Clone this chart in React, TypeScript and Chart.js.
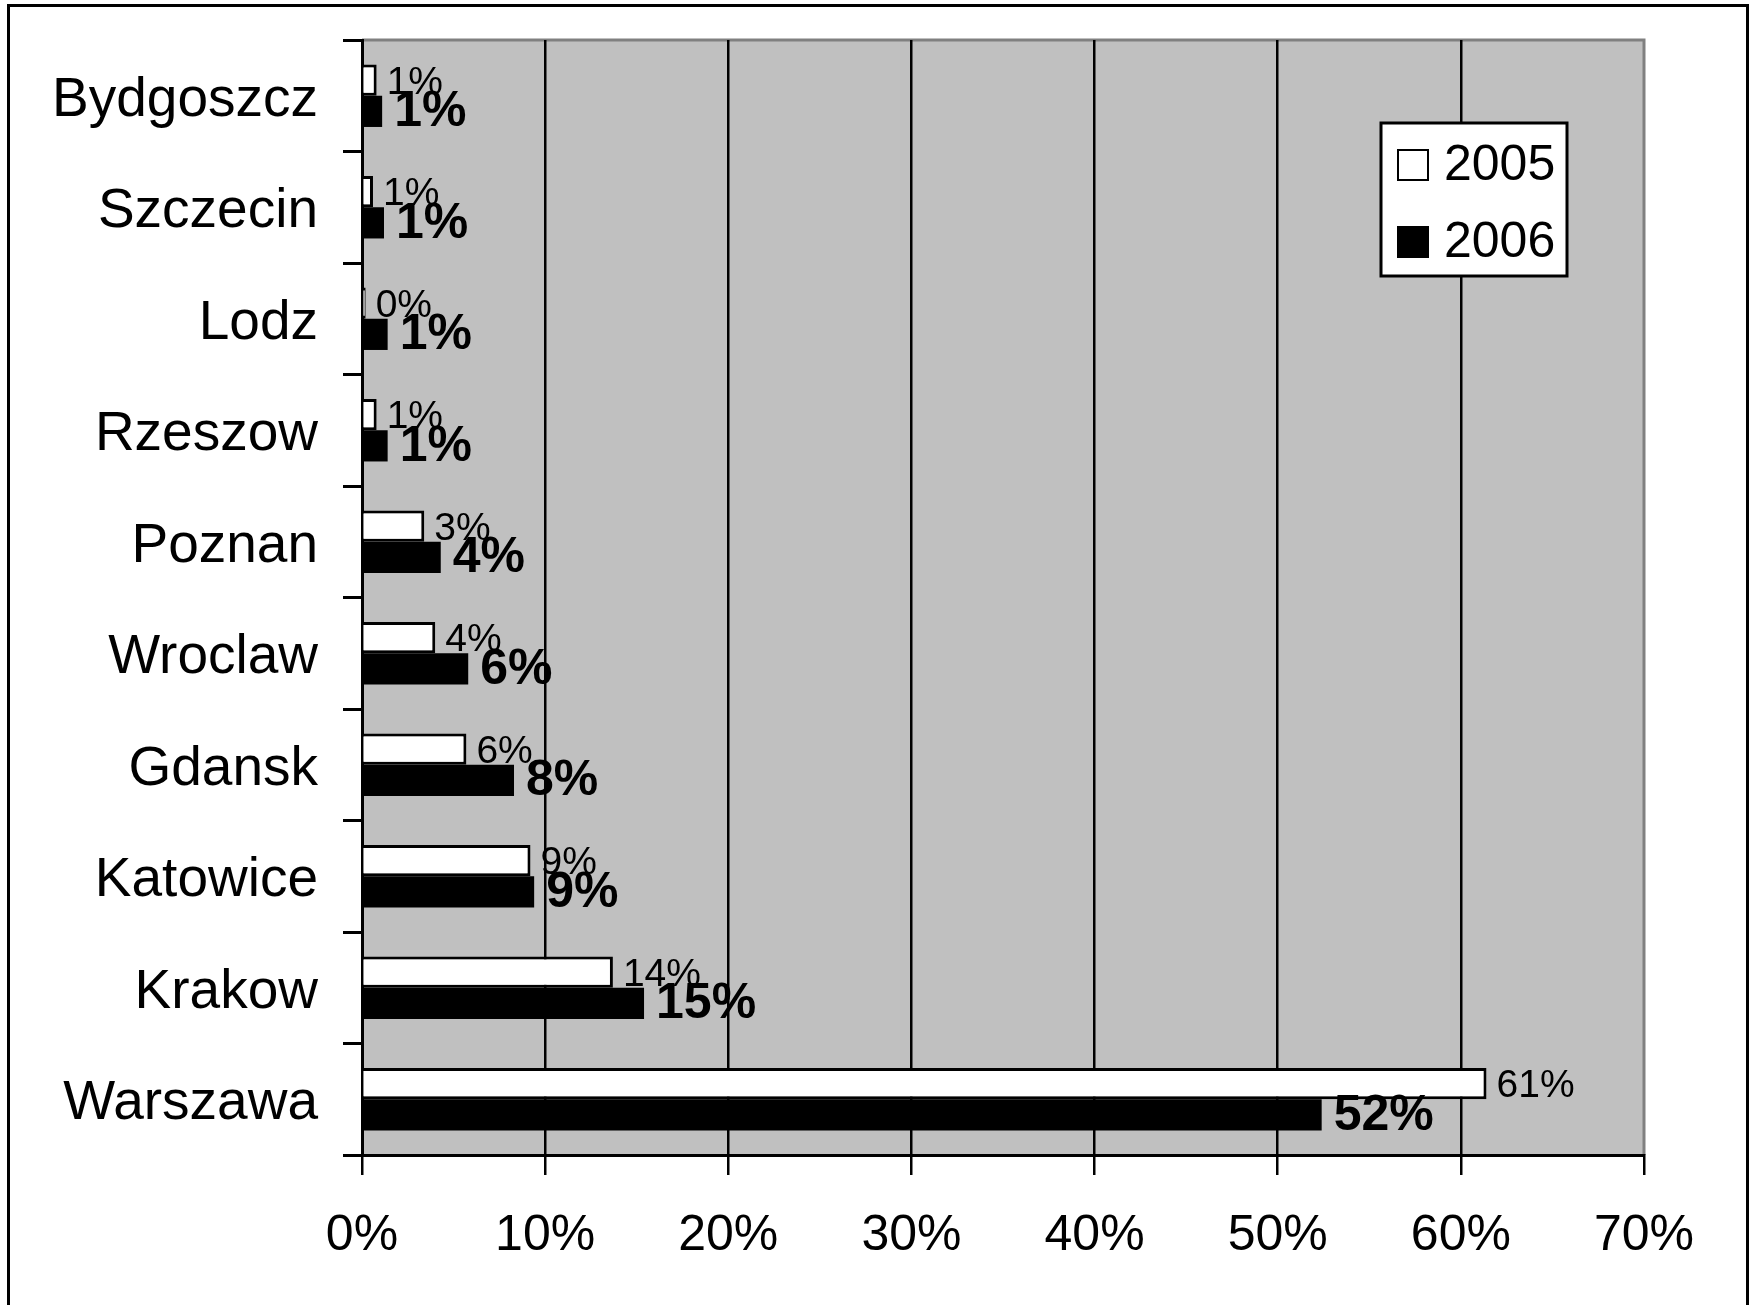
import React, { useEffect, useRef } from "react";
import { Chart, registerables } from "chart.js";

Chart.register(...registerables);

const cities = [
  "Bydgoszcz",
  "Szczecin",
  "Lodz",
  "Rzeszow",
  "Poznan",
  "Wroclaw",
  "Gdansk",
  "Katowice",
  "Krakow",
  "Warszawa",
];
const values2005 = [0.8, 0.6, 0.2, 0.8, 3.4, 4.0, 5.7, 9.2, 13.7, 61.4];
const values2006 = [1.1, 1.2, 1.4, 1.4, 4.3, 5.8, 8.3, 9.4, 15.4, 52.4];
const seriesLabels = ["2005", "2006"];
const xTicks = [0, 10, 20, 30, 40, 50, 60, 70];

const FONT = "'Liberation Sans', Arial, sans-serif";

const areaPlugin = {
  id: "areaPlugin",
  beforeDraw(chart: any) {
    const { ctx, chartArea } = chart;
    ctx.save();
    ctx.fillStyle = "#ffffff";
    ctx.fillRect(0, 0, chart.width, chart.height);
    ctx.fillStyle = "#c0c0c0";
    ctx.fillRect(chartArea.left, chartArea.top, chartArea.right - chartArea.left, chartArea.bottom - chartArea.top);
    ctx.strokeStyle = "#808080";
    ctx.lineWidth = 3;
    ctx.beginPath();
    ctx.moveTo(chartArea.left, chartArea.top);
    ctx.lineTo(chartArea.right, chartArea.top);
    ctx.lineTo(chartArea.right, chartArea.bottom);
    ctx.stroke();
    // outer frame
    ctx.strokeStyle = "#000000";
    ctx.lineWidth = 3;
    ctx.beginPath();
    ctx.moveTo(8.5, chart.height + 5);
    ctx.lineTo(8.5, 5.5);
    ctx.lineTo(1747.5, 5.5);
    ctx.lineTo(1747.5, chart.height + 5);
    ctx.stroke();
    ctx.restore();
  },
};

const labelPlugin = {
  id: "labelPlugin",
  afterDatasetsDraw(chart: any) {
    const { ctx } = chart;
    ctx.save();
    ctx.fillStyle = "#000";
    ctx.textBaseline = "middle";
    ctx.textAlign = "left";
    chart.data.datasets.forEach((ds: any, di: number) => {
      const meta = chart.getDatasetMeta(di);
      ctx.font = di === 0 ? `39px ${FONT}` : `bold 50px ${FONT}`;
      meta.data.forEach((el: any, i: number) => {
        const v = ds.data[i];
        const txt = Math.round(v) + "%";
        ctx.fillText(txt, el.x + (di === 0 ? 10 : 12), el.y + (di === 0 ? 3 : 1));
      });
    });
    ctx.restore();
  },
};

const legendPlugin = {
  id: "boxLegend",
  afterDraw(chart: any) {
    const { ctx } = chart;
    const x0 = 1381, y0 = 123, x1 = 1567, y1 = 276;
    ctx.save();
    ctx.fillStyle = "#fff";
    ctx.fillRect(x0, y0, x1 - x0, y1 - y0);
    ctx.strokeStyle = "#000";
    ctx.lineWidth = 3;
    ctx.strokeRect(x0, y0, x1 - x0, y1 - y0);
    const rows = [165, 242];
    chart.data.datasets.forEach((ds: any, i: number) => {
      const cy = rows[i];
      ctx.fillStyle = ds.backgroundColor;
      ctx.fillRect(1398, cy - 15, 30, 30);
      ctx.strokeStyle = "#000";
      ctx.lineWidth = 2;
      ctx.strokeRect(1398, cy - 15, 30, 30);
      ctx.fillStyle = "#000";
      ctx.font = `50px ${FONT}`;
      ctx.textBaseline = "middle";
      ctx.textAlign = "left";
      ctx.fillText(ds.label, 1444, cy + 1);
    });
    ctx.restore();
  },
};

export default function App() {
  const ref = useRef<HTMLCanvasElement | null>(null);
  useEffect(() => {
    if (!ref.current) return;
    const chart = new Chart(ref.current, {
      type: "bar",
      data: {
        labels: cities,
        datasets: [
          {
            label: seriesLabels[0],
            data: values2005,
            backgroundColor: "#ffffff",
            borderColor: "#000000",
            borderWidth: 3,
            categoryPercentage: 0.56,
            barPercentage: 1,
          },
          {
            label: seriesLabels[1],
            data: values2006,
            backgroundColor: "#000000",
            borderColor: "#000000",
            borderWidth: 0,
            categoryPercentage: 0.56,
            barPercentage: 1,
          },
        ],
      },
      options: {
        indexAxis: "y",
        responsive: false,
        animation: false,
        layout: { padding: { left: 0, top: 40, right: 108, bottom: 0 } },
        plugins: {
          legend: { display: false },
          tooltip: { enabled: false },
          title: { display: false },
        },
        scales: {
          x: {
            type: "linear",
            min: 0,
            max: 70,
            afterBuildTicks: (scale: any) => {
              scale.ticks = xTicks.map((v) => ({ value: v }));
            },
            afterFit: (scale: any) => {
              scale.height = 150;
              scale.paddingLeft = 0;
              scale.paddingRight = 0;
            },
            ticks: {
              color: "#000",
              font: { family: FONT, size: 50 },
              padding: 31,
              maxRotation: 0,
              callback: (v: any) => v + "%",
            },
            grid: {
              color: (c: any) => (c.tick && c.tick.value === 70 ? "rgba(0,0,0,0)" : "#000"),
              tickColor: "#000",
              lineWidth: 2.5,
              tickLength: 20,
              drawTicks: true,
            },
            border: { color: "#000", width: 3 },
          },
          y: {
            type: "category",
            afterFit: (scale: any) => {
              scale.width = 362;
              scale.paddingTop = 0;
              scale.paddingBottom = 0;
            },
            ticks: {
              color: "#000",
              font: { family: FONT, size: 55 },
              padding: 25,
              labelOffset: 5,
            },
            grid: {
              drawOnChartArea: false,
              drawTicks: true,
              tickLength: 19,
              tickColor: "#000",
              lineWidth: 3,
              offset: true,
            },
            border: { color: "#000", width: 3 },
          },
        },
      },
      plugins: [areaPlugin, labelPlugin, legendPlugin],
    } as any);
    return () => chart.destroy();
  }, []);
  return (
    <div style={{ position: "absolute", left: 0, top: 0, width: 1752, height: 1305 }}>
      <canvas ref={ref} width={1752} height={1305} style={{ display: "block" }} />
    </div>
  );
}
